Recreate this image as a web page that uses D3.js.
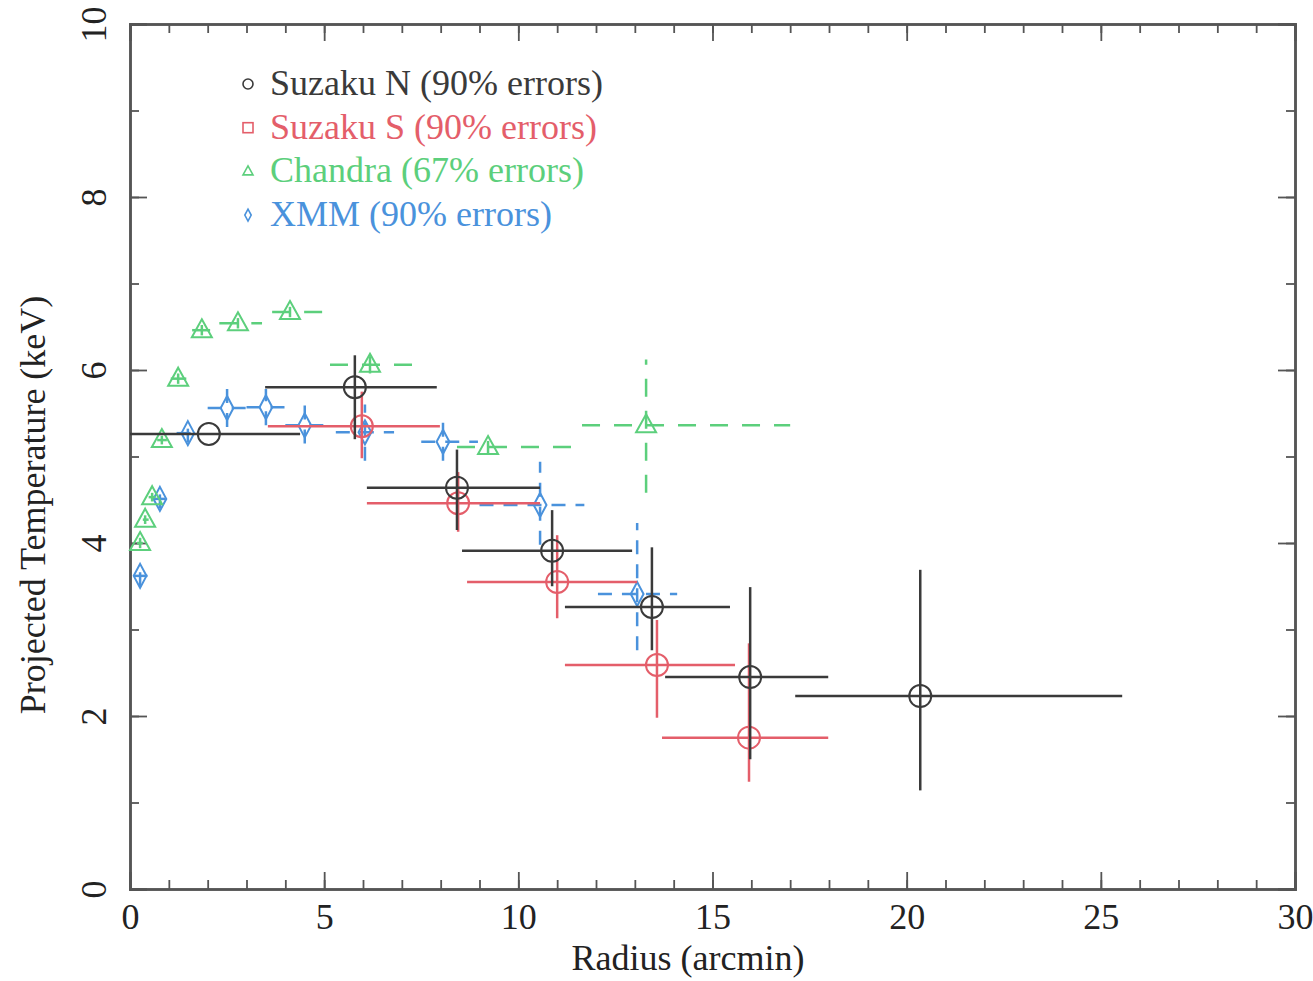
<!DOCTYPE html>
<html>
<head>
<meta charset="utf-8">
<script src="https://cdn.jsdelivr.net/npm/d3@7"></script>
<style>
  body { margin: 0; background: #fff; }
  svg text { font-family: "Liberation Serif", "Times New Roman", serif; }
</style>
</head>
<body>
<div id="chart"></div>
<script>
// Suzaku N (90% errors)
var nX    = [2.03, 5.79, 8.42, 10.87, 13.44, 15.97, 20.35];
var nY    = [5.26, 5.80, 4.64, 3.91, 3.26, 2.45, 2.23];
var nXlo  = [0.0, 3.48, 6.10, 8.55, 11.20, 13.78, 17.13];
var nXhi  = [4.38, 7.90, 10.56, 12.93, 15.45, 17.98, 25.55];
var nYlo  = [5.26, 5.20, 4.15, 3.50, 2.76, 1.50, 1.14];
var nYhi  = [5.26, 6.17, 5.08, 4.38, 3.95, 3.49, 3.69];

// Suzaku S (90% errors)
var sX    = [5.97, 8.45, 11.00, 13.57, 15.94];
var sY    = [5.35, 4.46, 3.55, 2.59, 1.75];
var sXlo  = [3.55, 6.10, 8.68, 11.20, 13.70];
var sXhi  = [7.98, 10.56, 13.06, 15.58, 17.98];
var sYlo  = [4.98, 4.13, 3.13, 1.98, 1.24];
var sYhi  = [5.75, 4.82, 4.09, 3.11, 2.84];

// Chandra (67% errors)
var cX    = [0.26, 0.39, 0.57, 0.82, 1.24, 1.85, 2.78, 4.12, 6.18, 9.22, 13.29];
var cY    = [4.00, 4.27, 4.53, 5.19, 5.90, 6.46, 6.54, 6.67, 6.06, 5.11, 5.36];
var cXlo  = [0.18, 0.33, 0.48, 0.70, 1.05, 1.60, 2.30, 3.66, 5.15, 8.42, 11.64];
var cXhi  = [0.33, 0.48, 0.66, 0.95, 1.45, 2.10, 3.40, 5.10, 7.55, 11.46, 17.00];
var cYlo  = [3.94, 4.22, 4.48, 5.14, 5.84, 6.40, 6.48, 6.61, 5.96, 5.04, 4.58];
var cYhi  = [4.06, 4.32, 4.58, 5.24, 5.96, 6.52, 6.60, 6.73, 6.16, 5.18, 6.12];

// XMM (90% errors)
var xX    = [0.26, 0.77, 1.49, 2.50, 3.50, 4.50, 6.05, 8.06, 10.56, 13.06];
var xY    = [3.62, 4.51, 5.27, 5.56, 5.57, 5.36, 5.28, 5.17, 4.44, 3.41];
var xXlo  = [0.10, 0.55, 1.20, 2.00, 3.00, 4.00, 5.30, 7.50, 9.00, 12.05];
var xXhi  = [0.45, 1.00, 1.80, 3.00, 4.00, 5.00, 6.80, 8.96, 11.70, 14.09];
var xYlo  = [3.50, 4.40, 5.16, 5.34, 5.36, 5.15, 4.95, 4.95, 3.98, 2.76];
var xYhi  = [3.74, 4.62, 5.38, 5.78, 5.78, 5.60, 5.60, 5.40, 4.94, 4.23];

var xTicks = [0, 5, 10, 15, 20, 25, 30];
var yTicks = [0, 2, 4, 6, 8, 10];

var series = [
    { name: "Suzaku N (90% errors)", color: "#3a3a3a", shape: "circle", dash: null,
      x: nX, y: nY, xlo: nXlo, xhi: nXhi, ylo: nYlo, yhi: nYhi },
    { name: "Suzaku S (90% errors)", color: "#e45e6a", shape: "square", dash: null,
      x: sX, y: sY, xlo: sXlo, xhi: sXhi, ylo: sYlo, yhi: sYhi },
    { name: "Chandra (67% errors)", color: "#5ccf7c", shape: "triangle", dash: "18,14",
      x: cX, y: cY, xlo: cXlo, xhi: cXhi, ylo: cYlo, yhi: cYhi },
    { name: "XMM (90% errors)", color: "#4a92dc", shape: "diamond", dash: "14,10",
      x: xX, y: xY, xlo: xXlo, xhi: xXhi, ylo: xYlo, yhi: xYhi }
];

var width = 1313,
    height = 981;

var plotL = 130, plotR = 1295, plotT = 24, plotB = 889;
var fontSize = "36px";

var x = d3.scaleLinear().domain([0, 30]).range([plotL, plotR]);
var y = d3.scaleLinear().domain([0, 10]).range([plotB, plotT]);

var svg = d3.select("#chart")
    .append("svg")
    .attr("width", width)
    .attr("height", height);

var axisColor = "#555";

// inward ticks on all four sides
svg.append("g")
    .attr("transform", "translate(0," + plotB + ")")
    .call(d3.axisBottom(x).ticks(30).tickSize(-9).tickFormat(""));
svg.append("g")
    .attr("transform", "translate(0," + plotB + ")")
    .call(d3.axisBottom(x).tickValues(xTicks).tickSize(-17).tickPadding(14).tickFormat(d3.format("d")));
svg.append("g")
    .attr("transform", "translate(0," + plotT + ")")
    .call(d3.axisTop(x).ticks(30).tickSize(-9).tickFormat(""));
svg.append("g")
    .attr("transform", "translate(0," + plotT + ")")
    .call(d3.axisTop(x).tickValues(xTicks).tickSize(-17).tickFormat(""));
svg.append("g")
    .attr("transform", "translate(" + plotL + ",0)")
    .call(d3.axisLeft(y).ticks(10).tickSize(-9).tickFormat(""));
var yAxis = svg.append("g")
    .attr("transform", "translate(" + plotL + ",0)")
    .call(d3.axisLeft(y).tickValues(yTicks).tickSize(-17).tickFormat(d3.format("d")));
svg.append("g")
    .attr("transform", "translate(" + plotR + ",0)")
    .call(d3.axisRight(y).ticks(10).tickSize(-9).tickFormat(""));
svg.append("g")
    .attr("transform", "translate(" + plotR + ",0)")
    .call(d3.axisRight(y).tickValues(yTicks).tickSize(-17).tickFormat(""));

svg.selectAll(".domain").attr("stroke", axisColor).attr("stroke-width", 2.5);
svg.selectAll(".tick line").attr("stroke", axisColor).attr("stroke-width", 1.8);
svg.selectAll(".tick text")
    .attr("fill", "#222")
    .style("font-size", fontSize)
    .style("font-family", "'Liberation Serif', serif");

// rotated y tick labels
yAxis.selectAll(".tick text")
    .attr("x", null)
    .attr("dy", "0")
    .attr("text-anchor", "middle")
    .attr("transform", "translate(-24,0) rotate(-90)");

svg.append("text")
    .attr("x", 688)
    .attr("y", 970)
    .attr("text-anchor", "middle")
    .attr("fill", "#222")
    .style("font-size", fontSize)
    .text("Radius (arcmin)");

svg.append("text")
    .attr("transform", "translate(45,505) rotate(-90)")
    .attr("text-anchor", "middle")
    .attr("fill", "#222")
    .style("font-size", fontSize)
    .text("Projected Temperature (keV)");

function marker(g, shape, size) {
    if (shape == "circle") {
        g.append("circle").attr("r", size);
    } else if (shape == "square") {
        g.append("rect").attr("x", -size).attr("y", -size).attr("width", size * 2).attr("height", size * 2);
    } else if (shape == "triangle") {
        g.append("path").attr("d", "M0," + (-size * 1.1) + "L" + size + "," + (size * 0.7) + "L" + (-size) + "," + (size * 0.7) + "Z");
    } else {
        g.append("path").attr("d", "M0," + (-size * 1.5) + "L" + (size * 0.8) + ",0L0," + (size * 1.5) + "L" + (-size * 0.8) + ",0Z");
    }
}

// error bars and markers, drawn back to front
series.slice().reverse().forEach(function(s) {
    var g = svg.append("g")
        .attr("stroke", s.color)
        .attr("fill", "none");
    var idx = d3.range(s.x.length);

    g.selectAll(".xerr")
        .data(idx)
        .enter()
        .append("line")
        .attr("x1", function(i) { return x(s.xlo[i]); })
        .attr("x2", function(i) { return x(s.xhi[i]); })
        .attr("y1", function(i) { return y(s.y[i]); })
        .attr("y2", function(i) { return y(s.y[i]); })
        .attr("stroke-width", 2.5)
        .attr("stroke-dasharray", s.dash);

    g.selectAll(".yerr")
        .data(idx)
        .enter()
        .append("line")
        .attr("x1", function(i) { return x(s.x[i]); })
        .attr("x2", function(i) { return x(s.x[i]); })
        .attr("y1", function(i) { return y(s.ylo[i]); })
        .attr("y2", function(i) { return y(s.yhi[i]); })
        .attr("stroke-width", 2.5)
        .attr("stroke-dasharray", s.dash);

    // the plotted symbol for Suzaku S is a circle, the legend shows a square
    idx.forEach(function(i) {
        var m = g.append("g")
            .attr("transform", "translate(" + x(s.x[i]) + "," + y(s.y[i]) + ")")
            .attr("stroke-width", 2);
        var shape = s.shape == "square" ? "circle" : s.shape;
        marker(m, shape, s.shape == "triangle" ? 10 : (s.shape == "diamond" ? 8 : 11));
    });
});

// legend
var legend = svg.append("g").attr("transform", "translate(248,84)");
series.forEach(function(s, i) {
    var row = legend.append("g").attr("transform", "translate(0," + (i * 43.7) + ")");
    var m = row.append("g")
        .attr("stroke", s.color)
        .attr("fill", "none")
        .attr("stroke-width", 1.6);
    marker(m, s.shape, s.shape == "diamond" ? 4 : 5);
    row.append("text")
        .attr("x", 22)
        .attr("y", 11)
        .attr("fill", s.color)
        .style("font-size", fontSize)
        .text(s.name);
});
</script>
</body>
</html>
